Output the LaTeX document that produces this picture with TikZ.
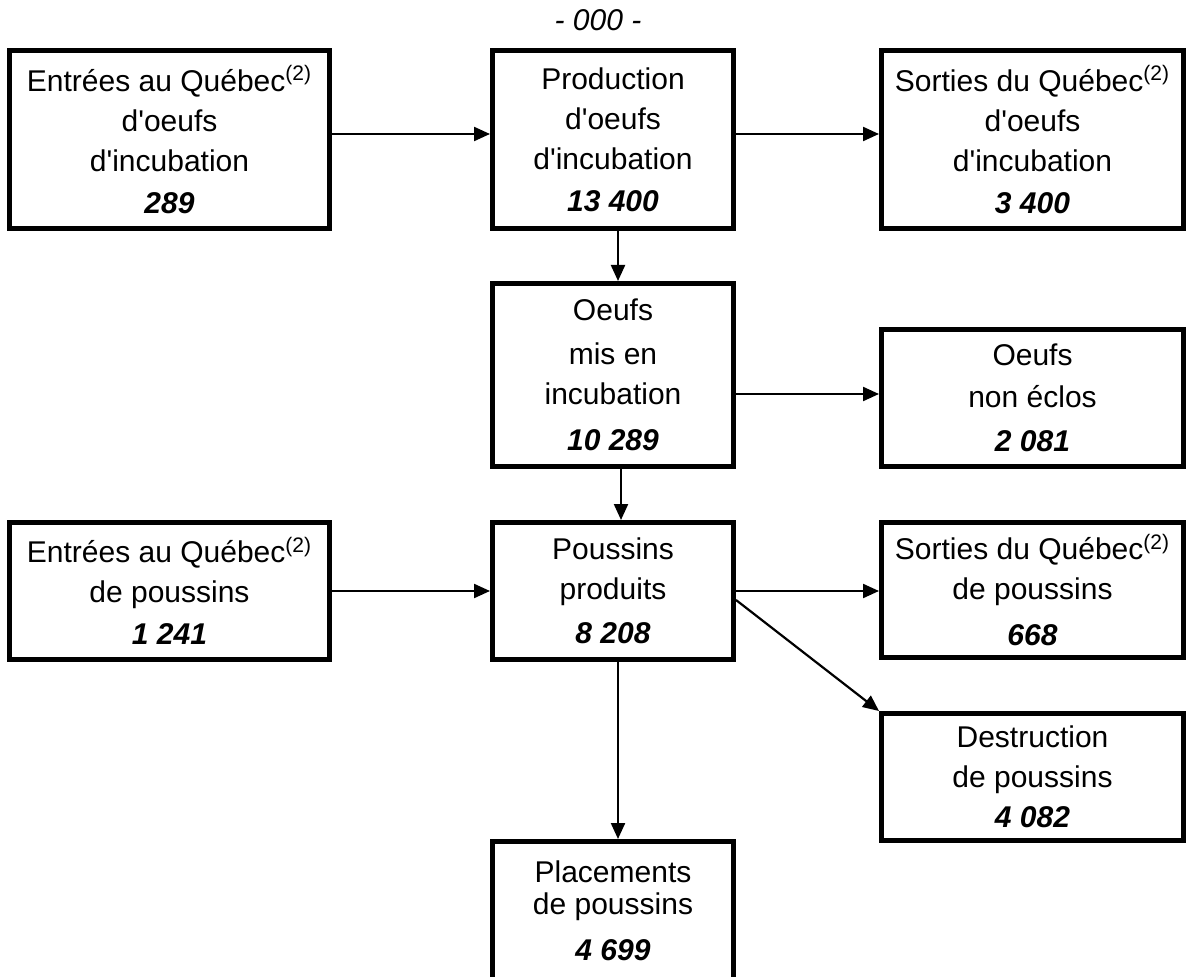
\documentclass[tikz,border=0pt]{standalone}
\usepackage{fontspec}
\setmainfont{Liberation Sans}
\usepackage{xcolor}
\usepackage{tikz}
\usetikzlibrary{arrows.meta}

\begin{document}
\begin{tikzpicture}[x = 0.5pt,
                    y = -0.5pt,
                    font = {\fontsize{15}{20}\selectfont}]


  % CANVAS
  \clip (0, 0) rectangle (1186, 977);


  % BOXES STYLE
  \definecolor{edgecolor_f}{rgb}{ 0,0,0 }
  \tikzstyle{boxstyle_f} = [draw=edgecolor_f, line width=2.5pt, fill=white, align=center, inner sep=2pt]
  \tikzstyle{arrowstyle_f} = [draw=edgecolor_f, line width=1.1pt, -{Triangle[length=8pt, width=7pt]}]


  % TITLE
  \node (title_f) at (598, 20) {\textit{- 000 -}};


  % DEF NODES
  \node[boxstyle_f, minimum width=160pt, minimum height=89pt] (entreesO_f) at (169.5, 139.5)
    {Entrées au Québec\textsuperscript{(2)}\\ d\textquotesingle{}oeufs\\ d\textquotesingle{}incubation\\[1pt] \textbf{\textit{289}}};
  \node[boxstyle_f, minimum width=120.5pt, minimum height=89pt] (prod_f) at (613, 139.5)
    {Production\\ d\textquotesingle{}oeufs\\ d\textquotesingle{}incubation\\[1pt] \textbf{\textit{13 400}}};
  \node[boxstyle_f, minimum width=151pt, minimum height=89pt] (sortiesO_f) at (1032.5, 139.5)
    {Sorties du Québec\textsuperscript{(2)}\\ d\textquotesingle{}oeufs\\ d\textquotesingle{}incubation\\[1pt] \textbf{\textit{3 400}}};

  \node[boxstyle_f, minimum width=120.5pt, minimum height=91.5pt] (mis_f) at (613, 375)
    {Oeufs\\[2pt] mis en\\ incubation\\[3pt] \textbf{\textit{10 289}}};
  \node[boxstyle_f, minimum width=151pt, minimum height=68.5pt] (nonEclos_f) at (1032.5, 398)
    {Oeufs\\[1pt] non éclos\\[2pt] \textbf{\textit{2 081}}};

  \node[boxstyle_f, minimum width=160pt, minimum height=68.5pt] (entreesP_f) at (169.5, 591)
    {Entrées au Québec\textsuperscript{(2)}\\ de poussins\\[1pt] \textbf{\textit{1 241}}};
  \node[boxstyle_f, minimum width=120.5pt, minimum height=68.5pt] (poussins_f) at (613, 591)
    {Poussins\\ produits\\[2pt] \textbf{\textit{8 208}}};
  \node[boxstyle_f, minimum width=151pt, minimum height=67.5pt] (sortiesP_f) at (1032.5, 590)
    {Sorties du Québec\textsuperscript{(2)}\\ de poussins\\[3pt] \textbf{\textit{668}}};

  \node[boxstyle_f, minimum width=151pt, minimum height=63.5pt] (destr_f) at (1032.5, 777)
    {Destruction\\ de poussins\\ \textbf{\textit{4 082}}};
  \node[boxstyle_f, minimum width=120.5pt, minimum height=69.5pt] (plac_f) at (613, 911)
    {Placements\\[-4pt] de poussins\\[3pt] \textbf{\textit{4 699}}};


  % ARROWS
  \draw[arrowstyle_f] ([yshift=2.75pt]entreesO_f.east) -- ([yshift=2.75pt]prod_f.west);
  \draw[arrowstyle_f] ([yshift=2.75pt]prod_f.east) -- ([yshift=2.75pt]sortiesO_f.west);
  \draw[arrowstyle_f] ([xshift=2.5pt]prod_f.south) -- ([xshift=2.5pt]mis_f.north);
  \draw[arrowstyle_f] ([yshift=-9.5pt]mis_f.east) -- ([yshift=2pt]nonEclos_f.west);
  \draw[arrowstyle_f] ([xshift=4pt]mis_f.south) -- ([xshift=4pt]poussins_f.north);
  \draw[arrowstyle_f] (entreesP_f.east) -- (poussins_f.west);
  \draw[arrowstyle_f] (poussins_f.east) -- (poussins_f.east -| sortiesP_f.west);
  \draw[arrowstyle_f] ([yshift=-4.5pt]poussins_f.east) -- (destr_f.north west);
  \draw[arrowstyle_f] ([xshift=2.5pt]poussins_f.south) -- ([xshift=2.5pt]plac_f.north);

\end{tikzpicture}
\end{document}
